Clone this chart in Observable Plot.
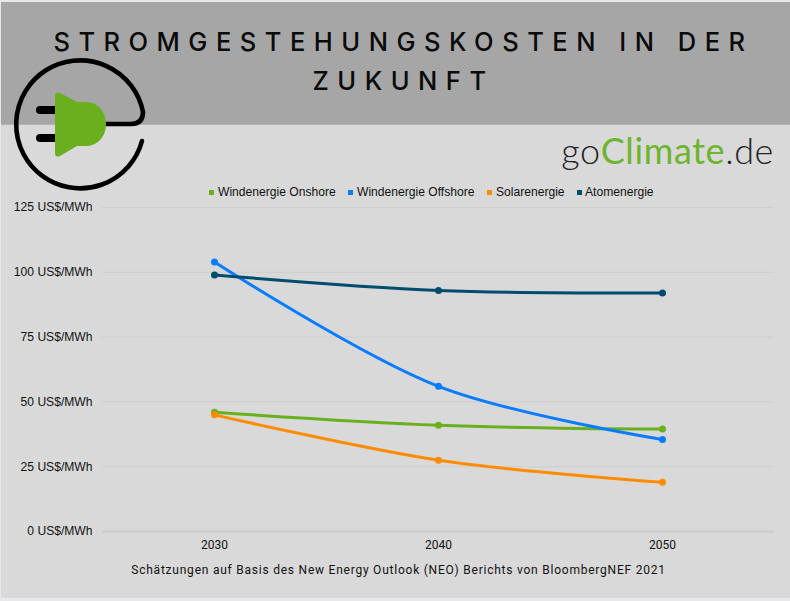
<!DOCTYPE html>
<html>
<head>
<meta charset="utf-8">
<script src="https://cdn.jsdelivr.net/npm/d3@7"></script>
<script src="https://cdn.jsdelivr.net/npm/@observablehq/plot@0.6"></script>
<style>
html,body{margin:0;padding:0;background:#e8e8ea;width:790px;height:601px;overflow:hidden}
#page{position:absolute;left:1px;top:2px;width:789px;height:596px;background:#d9d9d9}
#banner{position:absolute;left:0;top:0;width:789px;height:122px;background:#a6a6a6;border-bottom:1px solid #b4b4b4}
#title{position:absolute;left:8px;top:20px;width:789px;text-align:center;font:500 25.5px/39px Inter,"Noto Sans",sans-serif;letter-spacing:8.5px;color:#0a0a0a}
#logo{position:absolute;left:-1px;top:-2px}
#brand{position:absolute;right:16px;top:125px;font:300 36px/46px Lato,sans-serif;color:#222;letter-spacing:.6px}
#brand span{color:#6cb52d;font-weight:400}
#legend{position:absolute;left:207px;top:183px;font:12.1px/14px "Liberation Sans",Arial,sans-serif;color:#111;white-space:nowrap}
#legend i{position:absolute;width:5px;height:5px;top:5px}
#legend b{position:absolute;top:0;font-weight:400}
#chart{position:absolute;left:-1px;top:191px}
#caption{position:absolute;left:1px;top:561px;width:793px;text-align:center;font:12px/14px Roboto,sans-serif;letter-spacing:.77px;color:#111}
</style>
</head>
<body>
<div id="page">
  <div id="banner"></div>
  <div id="title">STROMGESTEHUNGSKOSTEN IN DER<br>ZUKUNFT</div>
  <div id="brand">go<span>Climate</span>.de</div>
  <div id="legend"></div>
  <div id="chart"></div>
  <div id="caption">Schätzungen auf Basis des New Energy Outlook (NEO) Berichts von BloombergNEF 2021</div>
  <svg id="logo" width="160" height="200" viewBox="0 0 160 200">
    <path d="M106 124H131Q143 124 143 112A64 64 0 1 0 142 141" fill="none" stroke="#000" stroke-width="4.6" stroke-linecap="round"/>
    <path d="M40 110H56M40 138H56" stroke="#000" stroke-width="8" stroke-linecap="round"/>
    <path d="M55 96Q55 92 60 93L77 102H86C98 102 106 112 106 124C106 136 98 146 86 146H77L60 156Q55 158 55 153Z" fill="#6ab01e"/>
  </svg>
</div>
<script>
const years = [2030, 2040, 2050];
const onshore = [46, 41, 39.5];
const offshore = [104, 56, 35.5];
const solar = [45, 27.5, 19];
const nuclear = [99, 93, 92];
const seriesNames = ["Windenergie Onshore", "Windenergie Offshore", "Solarenergie", "Atomenergie"];
const seriesColors = ["#6ab01e", "#0a7cff", "#ff8c00", "#004c6d"];
const yTicks = [0, 25, 50, 75, 100, 125];
const legendOffsets = [[1, 10], [140, 149], [279, 288], [369, 377]];

const allValues = [onshore, offshore, solar, nuclear];
const rows = seriesNames.flatMap((name, i) =>
  years.map((year, j) => ({series: name, year, value: allValues[i][j]})));

const plot = Plot.plot({
  width: 790,
  height: 367,
  marginTop: 14,
  marginBottom: 29,
  marginLeft: 102,
  marginRight: 16,
  style: {background: "transparent", fontFamily: "'Liberation Sans',Arial,sans-serif", fontSize: "12.1px", color: "#111", overflow: "visible"},
  x: {domain: [2025, 2055], axis: null},
  y: {domain: [0, 125], axis: null},
  color: {domain: seriesNames, range: seriesColors},
  marks: [
    Plot.ruleY(yTicks.filter(d => d > 0), {stroke: "#cecece", strokeWidth: 1}),
    Plot.ruleY([0], {stroke: "#cccccc", strokeWidth: 2}),
    Plot.axisY({ticks: yTicks, tickSize: 0, tickPadding: 10, label: null, tickFormat: d => `${d} US$/MWh`, fill: "#111"}),
    Plot.axisX({ticks: years, tickSize: 0, tickPadding: 9, label: null, tickFormat: d => String(d), fill: "#111", fontFamily: "Roboto,sans-serif", fontSize: 12}),
    Plot.line(rows, {x: "year", y: "value", z: "series", stroke: "series", strokeWidth: 3, curve: "catmull-rom"}),
    Plot.dot(rows, {x: "year", y: "value", fill: "series", r: 3.5})
  ]
});
document.getElementById("chart").appendChild(plot);

const legend = document.getElementById("legend");
seriesNames.forEach((name, i) => {
  const sw = document.createElement("i");
  sw.style.left = legendOffsets[i][0] + "px";
  sw.style.background = seriesColors[i];
  const tx = document.createElement("b");
  tx.style.left = legendOffsets[i][1] + "px";
  tx.textContent = name;
  legend.append(sw, tx);
});
</script>
</body>
</html>
